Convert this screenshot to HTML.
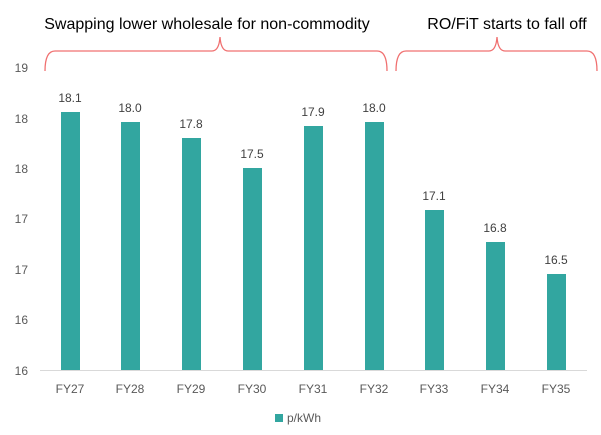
<!DOCTYPE html><html><head><style>body{margin:0;background:#fff}svg text{font-family:"Liberation Sans",sans-serif}</style></head><body>
<svg width="601" height="430" xmlns="http://www.w3.org/2000/svg">
<g font-size="12" fill="#595959" text-anchor="end">
<text x="28" y="72">19</text><text x="28" y="123">18</text><text x="28" y="173">18</text><text x="28" y="223">17</text><text x="28" y="274">17</text><text x="28" y="324">16</text><text x="28" y="375">16</text></g>
<line x1="40" y1="370.5" x2="587" y2="370.5" stroke="#d9d9d9"/>
<g fill="#32a6a0">
<rect x="61" y="112" width="19" height="258"/><rect x="121" y="122" width="19" height="248"/><rect x="182" y="138" width="19" height="232"/><rect x="243" y="168" width="19" height="202"/><rect x="304" y="126" width="19" height="244"/><rect x="365" y="122" width="19" height="248"/><rect x="425" y="210" width="19" height="160"/><rect x="486" y="242" width="19" height="128"/><rect x="547" y="274" width="19" height="96"/></g>
<g font-size="12" fill="#404040" text-anchor="middle">
<text x="70" y="102">18.1</text><text x="130" y="112">18.0</text><text x="191" y="128">17.8</text><text x="252" y="158">17.5</text><text x="313" y="116">17.9</text><text x="374" y="112">18.0</text><text x="434" y="200">17.1</text><text x="495" y="232">16.8</text><text x="556" y="264">16.5</text></g>
<g font-size="12" fill="#595959" text-anchor="middle">
<text x="70" y="393">FY27</text><text x="130" y="393">FY28</text><text x="191" y="393">FY29</text><text x="252" y="393">FY30</text><text x="313" y="393">FY31</text><text x="374" y="393">FY32</text><text x="434" y="393">FY33</text><text x="495" y="393">FY34</text><text x="556" y="393">FY35</text></g>
<rect x="275" y="414" width="8" height="8" fill="#32a6a0"/><text x="287" y="422" font-size="12" fill="#595959">p/kWh</text>
<g fill="none" stroke="#f07070" stroke-width="1.3">
<path d="M45 71 Q45 51 55 51 L212 51 Q219 51 220 37 Q221 51 228 51 L377 51 Q387 51 387 71"/>
<path d="M396 71 Q396 51 406 51 L489 51 Q496 51 497 37 Q498 51 505 51 L587 51 Q597 51 597 71"/></g>
<text x="207" y="29" font-size="16" fill="#000" text-anchor="middle">Swapping lower wholesale for non-commodity</text>
<text x="507" y="29" font-size="16" fill="#000" text-anchor="middle">RO/FiT starts to fall off</text>
</svg></body></html>
